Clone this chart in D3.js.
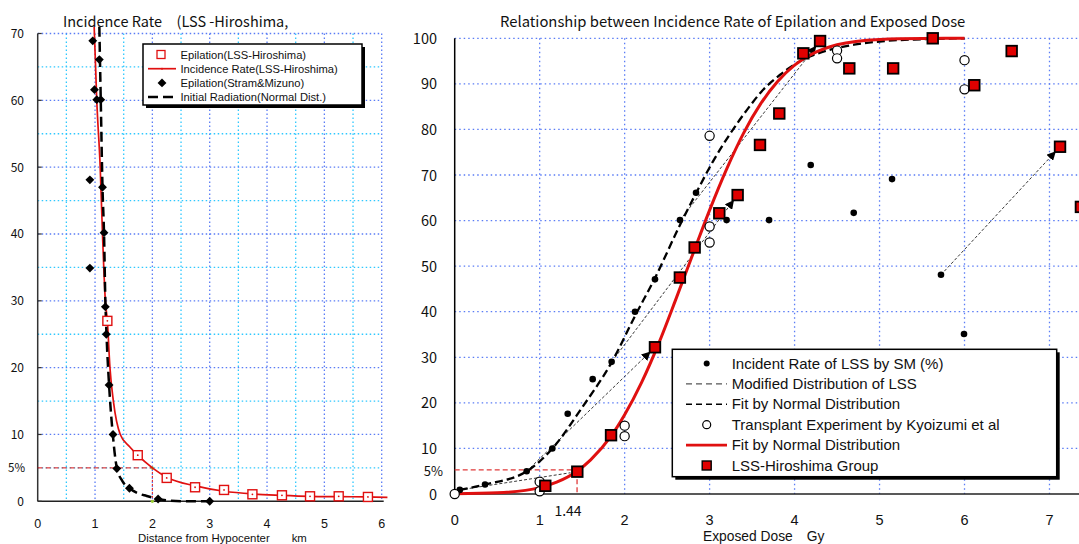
<!DOCTYPE html>
<html><head><meta charset="utf-8">
<script src="https://cdn.jsdelivr.net/npm/d3@7"></script>
<style>
body{margin:0;background:#fff}
svg{display:block;background:#fff}
text{font-family:"Noto Sans CJK JP","Liberation Sans",sans-serif;fill:#111}
text.lg{font-family:"Liberation Sans",Arial,sans-serif}
</style>
</head><body>
<svg id="c" width="1079" height="544"></svg>
<script>
// ---------- LEFT CHART DATA ----------
const leftXTicks = [0,1,2,3,4,5,6];
const leftYTicks = [0,10,20,30,40,50,60,70];
const lssDist = [1.215,1.745,2.25,2.745,3.25,3.745,4.26,4.75,5.25,5.76];
const lssRate = [27,6.9,3.5,2.1,1.7,1.05,0.9,0.75,0.75,0.65];
const incCurveDist = [0.985,1.03,1.09,1.13,1.18,1.215,1.26,1.32,1.44,1.6,1.745,2.0,2.25,2.75,3.25,3.75,4.25,4.75,5.25,5.75,6.1];
const incCurveRate = [71,60,50,40,30,27,20,15,10,8.2,6.9,5.0,3.6,2.3,1.5,1.1,0.9,0.75,0.7,0.65,0.6];
const smDist = [0.96,1.075,0.99,1.03,1.10,0.91,1.13,1.157,0.91,1.18,1.197,1.245,1.314,1.38,1.6,2.1,3.0];
const smRate = [68.9,66.1,61.6,60.1,60.1,48.1,47.0,40.2,34.9,29.1,25.0,17.4,10.0,4.9,1.95,0.35,0];
const initDist = [1.075,1.1,1.13,1.157,1.18,1.2,1.245,1.31,1.38,1.48,1.6,1.75,1.9,2.1,2.3,2.6,3.0];
const initRate = [71,60,47,40,30,25,17.4,10,5,3,1.95,1.2,0.8,0.35,0.1,0,0];

// ---------- RIGHT CHART DATA ----------
const doseTicks = [0,1,2,3,4,5,6,7];
const pctTicks = [0,10,20,30,40,50,60,70,80,90,100];
const smDose = [0.06,0.357,0.847,1.149,1.33,1.624,1.847,2.122,2.357,2.651,2.84,3.2,3.7,4.19,4.696,5.147,5.723,5.994];
const smPct  = [0.9,2.1,5.0,10.0,17.6,25.2,29.0,40.0,47.1,60.1,66.1,60.1,60.1,72.2,61.7,69.1,48.1,35.1];
const kyoDose = [0,1.0,1.0,2.0,2.0,3.0,3.0,3.0,4.5,4.5,6.0,6.0];
const kyoPct  = [0,2.7,0.6,15.0,12.7,78.6,58.7,55.2,97.3,95.6,95.2,88.8];
const lssDose = [1.066,1.443,1.84,2.357,2.65,2.824,3.114,3.33,3.593,3.82,4.103,4.3,4.644,5.16,5.626,6.115,6.555,7.124,7.37];
const lssPct  = [1.8,4.9,12.9,32.2,47.5,54.1,61.6,65.6,76.6,83.5,96.7,99.4,93.4,93.4,100,89.7,97.2,76.2,63];
const fitDose = [0,0.5,1.0,1.2,1.44,1.6,1.84,2.0,2.2,2.4,2.6,2.8,3.0,3.2,3.4,3.6,3.8,4.0,4.2,4.5,5.0,5.5,6.0];
const fitPct  = [0.03,0.25,1.4,2.6,5.0,7.5,12.7,17.4,24.5,33,42.6,52.5,62.3,71.3,79.2,85.6,90.5,94.1,96.5,98.6,99.75,99.97,100];
const smFitDose = [0.06,0.36,0.85,1.15,1.5,1.85,2.12,2.36,2.65,2.84,3.04,3.24,3.44,3.63,3.83,4.02,4.22,4.42,4.7,5.0,5.5,6.0];
const smFitPct  = [0.9,2.1,5.0,10,19,29,39,47.5,59,66,73,79,84.3,88.7,92,94.5,96.3,97.5,98.6,99.3,99.8,100];
const arrowFromDose = [0.06,0.847,1.847,2.651,5.723];
const arrowFromPct  = [0.9,5.0,29.0,60.1,48.1];
const arrowToDose   = [1.443,2.357,3.33,4.3,7.124];
const arrowToPct    = [4.9,32.2,65.6,99.4,76.2];

const svg = d3.select("#c");
const BLUE = "#5a7cf5", CYAN = "#2ec8ff", RED = "#e01010";

// ================= LEFT CHART =================
const xL = d3.scaleLinear().domain([0,6]).range([37.7,381.7]);
const yL = d3.scaleLinear().domain([0,70]).range([501.3,33.5]);
const gL = svg.append("g");

d3.range(0.5,6.01,0.5).forEach(v=>{
  gL.append("line").attr("x1",xL(v)).attr("x2",xL(v)).attr("y1",yL(70)).attr("y2",yL(0))
    .attr("stroke", Number.isInteger(v)?BLUE:CYAN).attr("stroke-width",1.3).attr("stroke-dasharray","1.5,2.5");
});
d3.range(5,70.01,5).forEach(v=>{
  gL.append("line").attr("x1",xL(0)).attr("x2",xL(6)).attr("y1",yL(v)).attr("y2",yL(v))
    .attr("stroke", v%10===0?BLUE:CYAN).attr("stroke-width",1.3).attr("stroke-dasharray","1.5,2.5");
});
gL.append("line").attr("x1",xL(0)).attr("x2",xL(0)).attr("y1",yL(70)).attr("y2",yL(0)).attr("stroke","#333").attr("stroke-width",1.5);
gL.append("line").attr("x1",xL(0)).attr("x2",xL(6)+2).attr("y1",yL(0)).attr("y2",yL(0)).attr("stroke","#222").attr("stroke-width",1.5);
leftYTicks.forEach(v=>{
  gL.append("line").attr("x1",xL(0)).attr("x2",xL(0)+4).attr("y1",yL(v)).attr("y2",yL(v)).attr("stroke","#333").attr("stroke-width",1.2);
  gL.append("text").attr("x",24).attr("y",yL(v)+4.5).attr("text-anchor","end").attr("font-size",12).text(v);
});
gL.append("text").attr("x",25).attr("y",yL(5)+4.5).attr("text-anchor","end").attr("font-size",11.5).text("5%");
leftXTicks.forEach(v=>{
  gL.append("text").attr("class","lg").attr("x",xL(v)).attr("y",528).attr("text-anchor","middle").attr("font-size",12.5).text(v);
});
gL.append("line").attr("x1",xL(0)).attr("x2",xL(2)).attr("y1",yL(5)).attr("y2",yL(5)).attr("stroke",RED).attr("stroke-width",1).attr("stroke-dasharray","5,3");
gL.append("line").attr("x1",xL(2)).attr("x2",xL(2)).attr("y1",yL(5)).attr("y2",yL(0)).attr("stroke",RED).attr("stroke-width",1).attr("stroke-dasharray","2,2");
[[2,5],[2,0]].forEach(p=>gL.append("circle").attr("cx",xL(p[0])).attr("cy",yL(p[1])).attr("r",1.6).attr("fill","#9acd32"));

const lineL = d3.line().x(d=>xL(d[0])).y(d=>yL(d[1])).curve(d3.curveMonotoneX);
gL.append("path").attr("d",lineL(d3.zip(incCurveDist,incCurveRate))).attr("fill","none").attr("stroke",RED).attr("stroke-width",1.7);
gL.append("path").attr("d",lineL(d3.zip(initDist,initRate))).attr("fill","none").attr("stroke","#000").attr("stroke-width",2.5).attr("stroke-dasharray","10,5");
d3.zip(lssDist,lssRate).forEach(p=>{
  gL.append("rect").attr("x",xL(p[0])-4.5).attr("y",yL(p[1])-4.5).attr("width",9).attr("height",9).attr("fill","#fff").attr("stroke",RED).attr("stroke-width",1.4);
  gL.append("circle").attr("cx",xL(p[0])).attr("cy",yL(p[1])).attr("r",0.9).attr("fill",RED);
});
const diamond = d3.symbol().type(d3.symbolDiamond2).size(50);
d3.zip(smDist,smRate).forEach(p=>{
  gL.append("path").attr("d",diamond()).attr("transform",`translate(${xL(p[0])},${yL(p[1])})`).attr("fill","#000");
});
gL.append("text").attr("x",63).attr("y",27).attr("font-size",14.5).text("Incidence Rate　(LSS -Hiroshima,");
gL.append("text").attr("class","lg").attr("x",138).attr("y",541.5).attr("font-size",11.4).text("Distance from Hypocenter　　km");
// legend
const lgL = gL.append("g");
lgL.append("rect").attr("x",146).attr("y",47).attr("width",219).attr("height",61).attr("fill","#000");
lgL.append("rect").attr("x",143).attr("y",44).attr("width",219).attr("height",61).attr("fill","#fff").attr("stroke","#000").attr("stroke-width",1.5);
const legL = [
  {t:"Epilation(LSS-Hiroshima)", k:"sq"},
  {t:"Incidence Rate(LSS-Hiroshima)", k:"ln"},
  {t:"Epilation(Stram&Mizuno)", k:"dm"},
  {t:"Initial Radiation(Normal Dist.)", k:"ds"}
];
legL.forEach((e,i)=>{
  const cy = 54.5 + i*14.2;
  if(e.k==="sq") lgL.append("rect").attr("x",157).attr("y",cy-4).attr("width",8).attr("height",8).attr("fill","#fff").attr("stroke",RED).attr("stroke-width",1.3);
  if(e.k==="ln"){ lgL.append("line").attr("x1",148).attr("x2",176).attr("y1",cy).attr("y2",cy).attr("stroke",RED).attr("stroke-width",1.7);
    lgL.append("circle").attr("cx",162).attr("cy",cy).attr("r",1).attr("fill",RED);}
  if(e.k==="dm") lgL.append("path").attr("d",diamond()).attr("transform",`translate(162,${cy})`).attr("fill","#000");
  if(e.k==="ds") lgL.append("line").attr("x1",148).attr("x2",177).attr("y1",cy).attr("y2",cy).attr("stroke","#000").attr("stroke-width",2.5).attr("stroke-dasharray","10,5");
  lgL.append("text").attr("class","lg").attr("x",180.5).attr("y",cy+4).attr("font-size",11.2).text(e.t);
});

// ================= RIGHT CHART =================
const xR = d3.scaleLinear().domain([0,7.5]).range([454.7,454.7+7.5*84.97]);
const yR = d3.scaleLinear().domain([0,100]).range([494,38.3]);
const gR = svg.append("g");
doseTicks.filter(v=>v>0).forEach(v=>{
  gR.append("line").attr("x1",xR(v)).attr("x2",xR(v)).attr("y1",yR(100)).attr("y2",yR(0))
    .attr("stroke",BLUE).attr("stroke-width",1.3).attr("stroke-dasharray","1.5,3");
});
pctTicks.filter(v=>v>0).forEach(v=>{
  gR.append("line").attr("x1",xR(0)).attr("x2",1079).attr("y1",yR(v)).attr("y2",yR(v))
    .attr("stroke",BLUE).attr("stroke-width",1.3).attr("stroke-dasharray","1.5,3");
});
gR.append("line").attr("x1",xR(0)).attr("x2",xR(0)).attr("y1",yR(100)).attr("y2",yR(0)).attr("stroke","#000").attr("stroke-width",1.5);
gR.append("line").attr("x1",xR(0)).attr("x2",1079).attr("y1",yR(0)).attr("y2",yR(0)).attr("stroke","#222").attr("stroke-width",1.5);
pctTicks.forEach(v=>{
  gR.append("text").attr("x",437).attr("y",yR(v)+5.5).attr("text-anchor","end").attr("font-size",14.5).text(v);
});
gR.append("text").attr("x",443).attr("y",yR(5)+5).attr("text-anchor","end").attr("font-size",13).text("5%");
doseTicks.forEach(v=>{
  gR.append("text").attr("class","lg").attr("x",xR(v)).attr("y",525).attr("text-anchor","middle").attr("font-size",14.5).text(v);
});
gR.append("text").attr("x",568).attr("y",516).attr("text-anchor","middle").attr("font-size",14).text("1.44");
gR.append("text").attr("class","lg").attr("x",703).attr("y",541).attr("font-size",13.8).text("Exposed Dose　Gy");
gR.append("text").attr("x",500).attr("y",27).attr("font-size",14.8).text("Relationship between Incidence Rate of Epilation and Exposed Dose");

gR.append("line").attr("x1",xR(0)).attr("x2",xR(1.44)).attr("y1",yR(5.3)).attr("y2",yR(5.3)).attr("stroke","#e03a3a").attr("stroke-width",1.3).attr("stroke-dasharray","5,3");
gR.append("line").attr("x1",xR(1.44)).attr("x2",xR(1.44)).attr("y1",yR(5)).attr("y2",yR(0)).attr("stroke","#e03a3a").attr("stroke-width",1.3).attr("stroke-dasharray","5,3");

const defs = svg.append("defs");
defs.append("marker").attr("id","ah").attr("viewBox","0 0 10 10").attr("refX",9).attr("refY",5)
  .attr("markerWidth",9).attr("markerHeight",9).attr("markerUnits","userSpaceOnUse").attr("orient","auto")
  .append("path").attr("d","M0,0 L10,5 L0,10 Z").attr("fill","#000");
d3.range(arrowFromDose.length).forEach(i=>{
  const x1=xR(arrowFromDose[i]), y1=yR(arrowFromPct[i]), x2=xR(arrowToDose[i]), y2=yR(arrowToPct[i]);
  const L=Math.hypot(x2-x1,y2-y1), s=(L-7)/L;
  gR.append("line").attr("x1",x1).attr("y1",y1).attr("x2",x1+(x2-x1)*s).attr("y2",y1+(y2-y1)*s)
    .attr("stroke","#222").attr("stroke-width",0.9).attr("stroke-dasharray","3,2")
    .attr("marker-end", i===0? null : "url(#ah)");
});

const lineR = d3.line().x(d=>xR(d[0])).y(d=>yR(d[1])).curve(d3.curveMonotoneX);
gR.append("path").attr("d",lineR(d3.zip(smFitDose,smFitPct))).attr("fill","none").attr("stroke","#000").attr("stroke-width",2.3).attr("stroke-dasharray","8,4");
gR.append("path").attr("d",lineR(d3.zip(fitDose,fitPct))).attr("fill","none").attr("stroke",RED).attr("stroke-width",3);

d3.zip(smDose,smPct).forEach(p=>gR.append("circle").attr("cx",xR(p[0])).attr("cy",yR(p[1])).attr("r",3.3).attr("fill","#000"));
d3.zip(kyoDose,kyoPct).forEach(p=>gR.append("circle").attr("cx",xR(p[0])).attr("cy",yR(p[1])).attr("r",4.6).attr("fill","#fff").attr("stroke","#000").attr("stroke-width",1.2));
d3.zip(lssDose,lssPct).forEach(p=>gR.append("rect").attr("x",xR(p[0])-5.3).attr("y",yR(p[1])-5.3).attr("width",10.6).attr("height",10.6).attr("fill","#e00000").attr("stroke","#000").attr("stroke-width",1.8));

const lgR = gR.append("g");
lgR.append("rect").attr("x",675.3).attr("y",352.3).attr("width",384.4).attr("height",127.4).attr("fill","#000");
lgR.append("rect").attr("x",672.3).attr("y",349.3).attr("width",384.4).attr("height",127.4).attr("fill","#fff").attr("stroke","#000").attr("stroke-width",1.5);
const legR = [
  {t:"Incident Rate of LSS by SM (%)", k:"dot"},
  {t:"Modified Distribution of LSS", k:"gds"},
  {t:"Fit by Normal Distribution", k:"bds"},
  {t:"Transplant Experiment by Kyoizumi et al", k:"circ"},
  {t:"Fit by Normal Distribution", k:"red"},
  {t:"LSS-Hiroshima Group", k:"sq"}
];
legR.forEach((e,i)=>{
  const cy = 363.5 + i*20.4, cx = 706.7;
  if(e.k==="dot") lgR.append("circle").attr("cx",cx).attr("cy",cy).attr("r",3).attr("fill","#000");
  if(e.k==="gds") lgR.append("line").attr("x1",686).attr("x2",727).attr("y1",cy).attr("y2",cy).attr("stroke","#555").attr("stroke-width",1.4).attr("stroke-dasharray","6,4");
  if(e.k==="bds") lgR.append("line").attr("x1",686).attr("x2",727).attr("y1",cy).attr("y2",cy).attr("stroke","#000").attr("stroke-width",1.4).attr("stroke-dasharray","6,4");
  if(e.k==="circ") lgR.append("circle").attr("cx",cx).attr("cy",cy).attr("r",4).attr("fill","#fff").attr("stroke","#000").attr("stroke-width",1.2);
  if(e.k==="red") lgR.append("line").attr("x1",686).attr("x2",727).attr("y1",cy).attr("y2",cy).attr("stroke",RED).attr("stroke-width",2.6);
  if(e.k==="sq") lgR.append("rect").attr("x",cx-4.5).attr("y",cy-4.5).attr("width",9).attr("height",9).attr("fill","#e00000").attr("stroke","#000").attr("stroke-width",1.4);
  lgR.append("text").attr("class","lg").attr("x",731.7).attr("y",cy+5).attr("font-size",15).text(e.t);
});
</script>
</body></html>
